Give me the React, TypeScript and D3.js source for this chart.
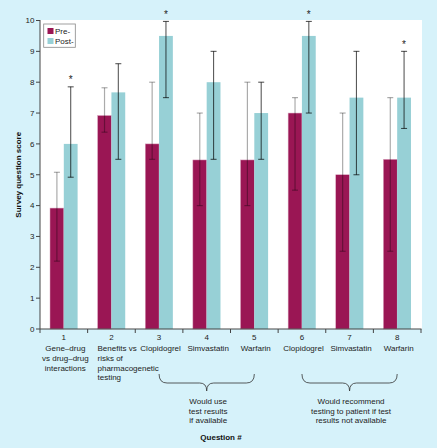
import React from "react";
import * as d3 from "d3";

const questions = ["1", "2", "3", "4", "5", "6", "7", "8"];
const preValues = [3.92, 6.92, 6.0, 5.48, 5.48, 7.0, 5.0, 5.5];
const preLow = [2.2, 6.38, 5.5, 4.0, 4.0, 4.5, 2.52, 2.52];
const preHigh = [5.08, 7.82, 8.0, 7.0, 8.0, 7.5, 7.0, 7.5];
const postValues = [6.0, 7.67, 9.5, 8.0, 7.0, 9.5, 7.5, 7.5];
const postLow = [4.92, 5.5, 7.5, 5.5, 5.5, 7.0, 5.0, 6.5];
const postHigh = [7.85, 8.6, 9.97, 9.0, 8.0, 9.97, 9.0, 9.0];
const significant = [true, false, true, false, false, true, false, true];
const yTicks = [0, 1, 2, 3, 4, 5, 6, 7, 8, 9, 10];
const qLabels: string[][] = [
  ["Gene–drug", "vs drug–drug", "interactions"],
  ["Benefits vs", "risks of", "pharmacogenetic", "testing"],
  ["Clopidogrel"],
  ["Simvastatin"],
  ["Warfarin"],
  ["Clopidogrel"],
  ["Simvastatin"],
  ["Warfarin"],
];
const groups = [
  { from: "3", to: "5", text: ["Would use", "test results", "if available"] },
  { from: "6", to: "8", text: ["Would recommend", "testing to patient if test", "results not available"] },
];
const seriesNames = ["Pre-", "Post-"];

const W = 437;
const H = 448;
const PRE = "#9a1654";
const POST = "#97d0d6";
const BG = "#d6f2fa";
const FONT = "'Liberation Sans', Arial, sans-serif";
const FS = 8;

export default function App() {
  const x = d3.scaleBand<string>().domain(questions).range([40, 421]).paddingInner(0).paddingOuter(0);
  const x1 = d3.scaleBand<string>().domain(["pre", "post"]).range([10, 37.6]);
  const y = d3.scaleLinear().domain([0, 10]).range([329, 20.5]);
  const bw = x1.bandwidth();

  const bracePath = (xl: number, xr: number) => {
    const xm = (xl + xr) / 2;
    const p = d3.path();
    p.moveTo(xl, 374);
    p.quadraticCurveTo(xl, 383, xl + 8, 383);
    p.lineTo(xm - 7, 383);
    p.quadraticCurveTo(xm, 383, xm, 391);
    p.quadraticCurveTo(xm, 383, xm + 7, 383);
    p.lineTo(xr - 8, 383);
    p.quadraticCurveTo(xr, 383, xr, 374);
    return p.toString();
  };

  const center = (q: string) => (x(q) as number) + x.bandwidth() / 2;

  return (
    <div style={{ position: "absolute", left: 0, top: 0 }}>
      <svg width={W} height={H} style={{ display: "block", fontFamily: FONT }}>
        <rect x={0} y={0} width={W} height={H} fill={BG} />
        <rect x={40} y={20} width={382} height={309} fill="#ffffff" />

        {questions.map((q, i) => {
          const bx = x(q) as number;
          const px = bx + (x1("pre") as number);
          const qx = bx + (x1("post") as number);
          const pc = px + bw / 2;
          const qc = qx + bw / 2;
          return (
            <g key={q}>
              <rect x={px} y={y(preValues[i])} width={bw} height={y(0) - y(preValues[i])} fill={PRE} stroke="#d9a6c0" strokeWidth={0.5} />
              <rect x={qx} y={y(postValues[i])} width={bw} height={y(0) - y(postValues[i])} fill={POST} />
              <g stroke="rgba(0,0,0,0.33)" strokeWidth={1.2}>
                <line x1={pc} x2={pc} y1={y(preLow[i])} y2={y(preHigh[i])} />
                <line x1={pc - 3} x2={pc + 3} y1={y(preLow[i])} y2={y(preLow[i])} />
                <line x1={pc - 3} x2={pc + 3} y1={y(preHigh[i])} y2={y(preHigh[i])} />
              </g>
              <g stroke="rgba(0,0,0,0.65)" strokeWidth={1.1}>
                <line x1={qc} x2={qc} y1={y(postLow[i])} y2={y(postHigh[i])} />
                <line x1={qc - 3} x2={qc + 3} y1={y(postLow[i])} y2={y(postLow[i])} />
                <line x1={qc - 3} x2={qc + 3} y1={y(postHigh[i])} y2={y(postHigh[i])} />
              </g>
              {significant[i] && (
                <text x={qc} y={y(postHigh[i]) - 3.5} textAnchor="middle" fontSize={10} fill="#222">
                  *
                </text>
              )}
            </g>
          );
        })}

        {/* y axis */}
        <line x1={40} x2={40} y1={20} y2={329} stroke="#444" strokeWidth={1} />
        {yTicks.map((t) => (
          <g key={t}>
            <line x1={36} x2={40} y1={y(t)} y2={y(t)} stroke="#444" />
            <text x={34.5} y={y(t)} dy="0.35em" textAnchor="end" fontSize={FS} fill="#222">
              {t}
            </text>
          </g>
        ))}
        <text
          transform={`translate(21,${(y(0) + y(10)) / 2}) rotate(-90)`}
          textAnchor="middle"
          fontSize={8}
          fontWeight="bold"
          fill="#111"
        >
          Survey question score
        </text>

        {/* x axis */}
        <line x1={40} x2={421.5} y1={329} y2={329} stroke="#444" strokeWidth={1} />
        {[...questions.map((q) => x(q) as number), 421].map((v, i) => (
          <line key={i} x1={v} x2={v} y1={329} y2={333} stroke="#444" />
        ))}
        {questions.map((q, i) => {
          const c = center(q);
          const leftAlign = i === 1;
          return (
            <g key={q} fontSize={FS} fill="#222">
              <text x={c} y={340} textAnchor="middle">
                {q}
              </text>
              {qLabels[i].map((l, j) => (
                <text
                  key={j}
                  x={leftAlign ? 97.5 : c + 1.5}
                  y={351.3 + j * 9.6}
                  textAnchor={leftAlign ? "start" : "middle"}
                >
                  {l}
                </text>
              ))}
            </g>
          );
        })}

        {groups.map((g, i) => {
          const xl = center(g.from);
          const xr = center(g.to);
          const xm = (xl + xr) / 2;
          return (
            <g key={i}>
              <path d={bracePath(xl, xr)} fill="none" stroke="#333" strokeWidth={0.8} />
              {g.text.map((t, j) => (
                <text key={j} x={xm + 1.5} y={404 + j * 9.6} textAnchor="middle" fontSize={FS} fill="#222">
                  {t}
                </text>
              ))}
            </g>
          );
        })}

        <text x={221} y={439.5} textAnchor="middle" fontSize={8} fontWeight="bold" fill="#111">
          Question #
        </text>

        {/* legend */}
        <rect x={43.7} y={24} width={31.6} height={23.3} fill="#fff" stroke="#888" strokeWidth={0.8} />
        {seriesNames.map((s, i) => (
          <g key={s}>
            <rect x={47.5} y={28 + i * 10} width={6} height={6} fill={i === 0 ? PRE : POST} />
            <text x={55} y={31 + i * 10} dy="0.35em" fontSize={FS} fill="#222">
              {s}
            </text>
          </g>
        ))}
      </svg>
    </div>
  );
}
